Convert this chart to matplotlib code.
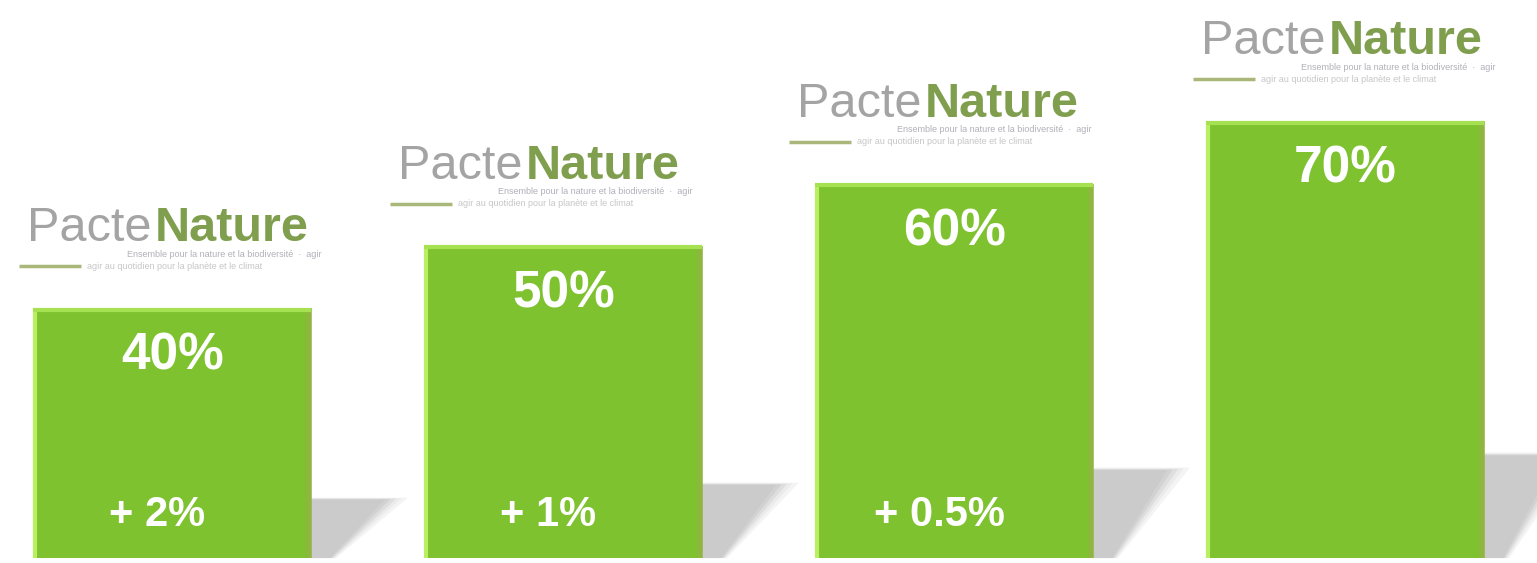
"""Pacte Nature bar chart: four steps of adoption with increments."""

import matplotlib
matplotlib.use("Agg")
import matplotlib.pyplot as plt
from matplotlib.patches import Polygon

# data
steps = [0, 1, 2, 3]
values = [40, 50, 60, 70]
top_labels = ["40%", "50%", "60%", "70%"]
bottom_labels = ["+ 2%", "+ 1%", "+ 0.5%", ""]

# layout (pixel offsets of the logo relative to bar left edge)
logo_dx_px = [-6, -26, -18, -5]

BAR_GREEN = "#7ec22f"
LIGHT_EDGE = "#b9f062"
DARK_EDGE = "#8fb63e"
LOGO_GRAY = "#a4a4a4"
LOGO_GREEN = "#7f9e4e"
PX = 72 / 100  # points per pixel at dpi 100

plt.rcParams["font.family"] = ["Liberation Sans", "DejaVu Sans"]

fig = plt.figure(figsize=(15.37, 5.63), dpi=100)
ax = fig.add_axes([0, 0, 1, 1])
ax.set_xlim(-0.441, 3.490)
ax.set_ylim(-0.8, 89.4)
ax.axis("off")

width = 0.711

# soft shadows to the right of each bar
shades = [(1.05, "#f4f4f4"), (0.98, "#ebebeb"), (0.92, "#dedede"),
          (0.86, "#d2d2d2"), (0.80, "#cbcbcb")]
for x, v in zip(steps, values):
    xr = x + width / 2
    sh = 0.24 * v
    for grow, col in shades:
        top = sh * (0.88 + 0.12 * grow)
        pts = [(xr, 0), (xr, top), (xr + 0.235 * grow, top),
               (xr + 0.06 * grow, 0)]
        ax.add_patch(Polygon(pts, closed=True, facecolor=col,
                             edgecolor="none", zorder=1))

ax.bar(steps, values, width=width, color=BAR_GREEN, edgecolor="none",
       zorder=2)

for x, v in zip(steps, values):
    xl, xr = x - width / 2, x + width / 2
    ax.plot([xl + 0.004, xl + 0.004], [0, v], color=LIGHT_EDGE, lw=3,
            solid_capstyle="butt", zorder=3)
    ax.plot([xr - 0.006, xr - 0.006], [0, v], color=DARK_EDGE, lw=4,
            solid_capstyle="butt", zorder=3)
    ax.plot([xl, xr], [v - 0.25, v - 0.25], color="#a6e152", lw=3,
            solid_capstyle="butt", zorder=3)

# value labels
for x, v, lab in zip(steps, values, top_labels):
    ax.annotate(lab, (x, v), xytext=(0, -48 * PX), textcoords="offset points",
                ha="center", va="center", color="white", fontsize=37,
                fontweight="bold", zorder=4)

for x, lab in zip(steps, bottom_labels):
    if lab:
        ax.annotate(lab, (x, 0), xytext=(-15 * PX, 43 * PX),
                    textcoords="offset points", ha="center", va="center",
                    color="white", fontsize=30, fontweight="bold", zorder=4)

# logos above each bar
for x, v, dx in zip(steps, values, logo_dx_px):
    xl = x - width / 2
    ax.annotate("Pacte", (xl, v), xytext=(dx * PX, 67 * PX),
                textcoords="offset points", ha="left", va="baseline",
                color=LOGO_GRAY, fontsize=35, zorder=4)
    ax.annotate("Nature", (xl, v), xytext=((dx + 127) * PX, 67 * PX),
                textcoords="offset points", ha="left", va="baseline",
                color=LOGO_GREEN, fontsize=35, fontweight="bold", zorder=4)
    ax.annotate("Ensemble pour la nature et la biodiversité  ·  agir", (xl, v),
                xytext=((dx + 100) * PX, 54 * PX), textcoords="offset points",
                ha="left", va="center", color="#b0b0b8", fontsize=6.5,
                zorder=4)
    ax.annotate("agir au quotidien pour la planète et le climat", (xl, v),
                xytext=((dx + 60) * PX, 42 * PX), textcoords="offset points",
                ha="left", va="center", color="#c6c6c6", fontsize=6.5,
                zorder=4)
    x0 = xl + (dx - 8) / 391
    ax.plot([x0, x0 + 62 / 391], [v + 42 / 6.243] * 2, color="#a9b87a",
            lw=2.5, solid_capstyle="butt", zorder=4)

fig.savefig("out.png", dpi=100)
